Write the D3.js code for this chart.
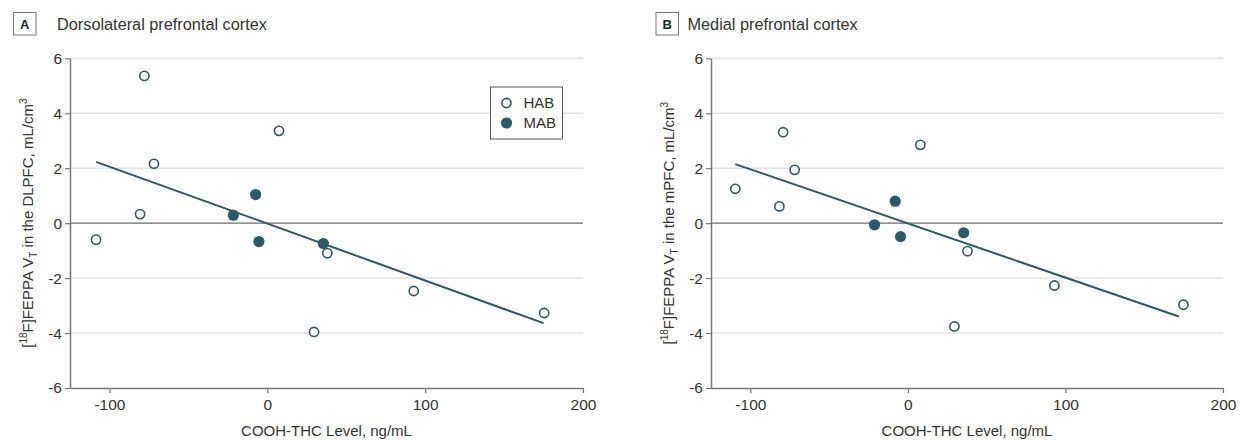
<!DOCTYPE html>
<html>
<head>
<meta charset="utf-8">
<script src="https://cdn.jsdelivr.net/npm/d3@7"></script>
<style>
  body { margin: 0; background: #fff; }
  text { font-family: "Liberation Sans", Arial, sans-serif; fill: #333; }
</style>
</head>
<body>
<svg id="chart" width="1245" height="440"></svg>
<script>
// ---------- data ----------
const xTicks = [-100, 0, 100, 200];
const yTicks = [-6, -4, -2, 0, 2, 4, 6];
const groups = ["HAB", "MAB"];

// A: DLPFC
const dlpfcHabX = [-108.5, -77.9, -71.8, -80.6, 7.4, 38.0, 29.6, 92.8, 175.4];
const dlpfcHabY = [-0.60, 5.36, 2.16, 0.33, 3.36, -1.09, -3.96, -2.47, -3.27];
const dlpfcMabX = [-21.5, -7.4, -5.3, 35.5];
const dlpfcMabY = [0.29, 1.04, -0.67, -0.74];
const dlpfcFitX = [-108.5, 175];
const dlpfcFitY = [2.23, -3.64];

// B: mPFC
const mpfcHabX = [-109.6, -79.2, -71.9, -81.6, 7.9, 37.8, 29.5, 93.0, 174.9];
const mpfcHabY = [1.25, 3.31, 1.94, 0.61, 2.85, -1.02, -3.76, -2.27, -2.97];
const mpfcMabX = [-21.2, -8.1, -4.7, 35.4];
const mpfcMabY = [-0.06, 0.80, -0.49, -0.35];
const mpfcFitX = [-109.6, 172];
const mpfcFitY = [2.15, -3.40];

const zip = (xs, ys) => xs.map((x, i) => ({ x, y: ys[i] }));

const teal = "#2c5867";
const svg = d3.select("#chart");

const drawPanel = (props) => {
  const { left, right, top, bottom, letter, letterX, titleX, title, region, hab, mab, fit, legend } = props;

  const x = d3.scaleLinear().domain([-125, 200]).range([left, right]);
  const y = d3.scaleLinear().domain([-6, 6]).range([bottom, top]);
  const g = svg.append("g");

  // panel tag and title
  g.append("rect")
    .attr("x", letterX).attr("y", 12.5)
    .attr("width", 22.5).attr("height", 22.5)
    .attr("fill", "none").attr("stroke", "#777").attr("stroke-width", 1);
  g.append("text")
    .attr("x", letterX + 11.25).attr("y", 29)
    .attr("text-anchor", "middle")
    .attr("font-size", 13).attr("font-weight", "bold")
    .style("fill", "#222")
    .text(letter);
  g.append("text")
    .attr("x", titleX).attr("y", 30)
    .attr("font-size", 16.3)
    .text(title);

  // gridlines
  g.append("g").selectAll("line")
    .data(yTicks.filter(d => d !== 0 && d !== -6))
    .join("line")
      .attr("x1", left).attr("x2", right)
      .attr("y1", d => y(d)).attr("y2", d => y(d))
      .attr("stroke", "#e2e2e2").attr("stroke-width", 1.5);
  g.append("line")
    .attr("x1", left).attr("x2", right)
    .attr("y1", y(0)).attr("y2", y(0))
    .attr("stroke", "#6a6a6a").attr("stroke-width", 1.2);

  // axes
  const fmt = d => String(d);
  const yAxisG = g.append("g")
    .attr("transform", `translate(${left},0)`)
    .call(d3.axisLeft(y).tickValues(yTicks).tickFormat(fmt).tickSize(5).tickSizeOuter(0).tickPadding(3));
  const xAxisG = g.append("g")
    .attr("transform", `translate(0,${bottom})`)
    .call(d3.axisBottom(x).tickValues(xTicks).tickFormat(fmt).tickSize(5).tickSizeOuter(0).tickPadding(6));
  [yAxisG, xAxisG].forEach(a => {
    a.select(".domain").attr("stroke", "#777").attr("stroke-width", 1.5);
    a.selectAll(".tick line").attr("stroke", "#777").attr("stroke-width", 1.2);
    a.selectAll(".tick text").attr("font-size", 15.5).style("fill", "#333")
      .attr("font-family", "Liberation Sans, Arial, sans-serif");
  });

  // axis titles
  g.append("text")
    .attr("x", (left + right) / 2).attr("y", 436)
    .attr("text-anchor", "middle")
    .attr("font-size", 15)
    .text("COOH-THC Level, ng/mL");

  const yl = g.append("text")
    .attr("transform", `translate(${left - 37},${y(0)}) rotate(-90)`)
    .attr("text-anchor", "middle")
    .attr("font-size", 15);
  yl.append("tspan").text("[");
  yl.append("tspan").attr("font-size", 10).attr("dy", -6).text("18");
  yl.append("tspan").attr("dy", 6).text("F]FEPPA V");
  yl.append("tspan").attr("font-size", 10).attr("dy", 4).text("T");
  yl.append("tspan").attr("dy", -4).text(` in the ${region}, mL/cm`);
  yl.append("tspan").attr("font-size", 10).attr("dy", -6).text("3");

  // regression line
  g.append("path")
    .datum(zip(fit[0], fit[1]))
    .attr("d", d3.line().x(d => x(d.x)).y(d => y(d.y)))
    .attr("fill", "none").attr("stroke", teal).attr("stroke-width", 2);

  // points
  g.append("g").selectAll("circle")
    .data(zip(hab[0], hab[1]))
    .join("circle")
      .attr("cx", d => x(d.x)).attr("cy", d => y(d.y))
      .attr("r", 4.6)
      .attr("fill", "#fff").attr("stroke", teal).attr("stroke-width", 1.6);
  g.append("g").selectAll("circle")
    .data(zip(mab[0], mab[1]))
    .join("circle")
      .attr("cx", d => x(d.x)).attr("cy", d => y(d.y))
      .attr("r", 5.6)
      .attr("fill", teal);

  if (legend) {
    const lg = g.append("g").attr("transform", "translate(490.5,87)");
    lg.append("rect")
      .attr("width", 72).attr("height", 52)
      .attr("fill", "#fff").attr("stroke", "#555").attr("stroke-width", 1);
    const items = lg.selectAll("g.item")
      .data(groups)
      .join("g").attr("class", "item")
        .attr("transform", (d, i) => `translate(16,${16 + i * 20})`);
    items.append("circle")
      .attr("r", d => d === "HAB" ? 4.6 : 5.6)
      .attr("fill", d => d === "HAB" ? "#fff" : teal)
      .attr("stroke", d => d === "HAB" ? teal : "none")
      .attr("stroke-width", 1.6);
    items.append("text")
      .attr("x", 17).attr("dy", "0.36em")
      .attr("font-size", 15)
      .text(d => d);
  }
};

drawPanel({
  left: 70, right: 583, top: 58.3, bottom: 388,
  letter: "A", letterX: 13.5, titleX: 57,
  title: "Dorsolateral prefrontal cortex",
  region: "DLPFC",
  hab: [dlpfcHabX, dlpfcHabY],
  mab: [dlpfcMabX, dlpfcMabY],
  fit: [dlpfcFitX, dlpfcFitY],
  legend: true
});

drawPanel({
  left: 711, right: 1223, top: 58.3, bottom: 388,
  letter: "B", letterX: 656, titleX: 687.5,
  title: "Medial prefrontal cortex",
  region: "mPFC",
  hab: [mpfcHabX, mpfcHabY],
  mab: [mpfcMabX, mpfcMabY],
  fit: [mpfcFitX, mpfcFitY],
  legend: false
});
</script>
</body>
</html>
